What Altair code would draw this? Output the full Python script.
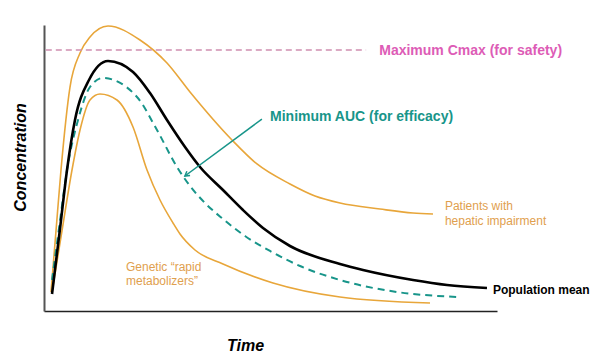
import altair as alt
import pandas as pd

# ---- data (time in arbitrary units 0-100, concentration 0-100) ----
mean_t = [1.77, 3.53, 5.08, 6.84, 9.93, 14.13, 19.65, 23.40, 27.15, 31.13, 34.44, 39.51, 43.93, 48.34, 54.30, 65.34, 70.42, 81.46, 88.96, 97.79]
mean_c = [5.94, 28.7, 49.30, 66.78, 80.77, 87.41, 83.57, 76.22, 66.78, 57.34, 50.35, 42.31, 35.31, 29.02, 22.73, 16.43, 14.34, 10.84, 9.09, 8.04]

auc_t = [1.77, 3.53, 5.08, 7.51, 10.15, 13.02, 20.53, 24.94, 29.36, 32.23, 35.54, 39.51, 44.37, 49.89, 56.51, 65.34, 77.92, 91.39]
auc_c = [10.84, 31.5, 49.30, 66.78, 78.32, 81.47, 74.83, 63.29, 50.35, 43.71, 37.76, 32.17, 26.22, 20.98, 15.73, 10.84, 6.64, 4.90]

hep_t = [1.55, 2.65, 3.75, 5.74, 7.95, 10.15, 14.13, 21.19, 27.15, 32.23, 41.50, 47.02, 54.30, 59.82, 65.34, 74.17, 81.46, 85.87]
hep_c = [6.64, 28.0, 49.30, 78.32, 90.21, 95.80, 99.65, 94.76, 86.71, 76.57, 59.79, 51.40, 44.41, 40.21, 37.76, 35.66, 34.27, 33.92]

rap_t = [1.77, 3.97, 6.18, 7.95, 10.15, 12.36, 16.11, 19.65, 22.74, 25.61, 28.48, 30.02, 33.33, 39.51, 50.55, 65.34, 85.21]
rap_c = [6.64, 28.0, 49.30, 63.29, 73.78, 75.87, 73.78, 64.34, 49.30, 38.81, 30.77, 26.92, 21.33, 16.43, 9.79, 4.90, 2.80]

cmax_level = 91.3
cmax_t = [0.4, 71.1]

arrow_t = [48.1, 31.1]
arrow_c = [67.1, 47.2]

labels_text = ["Maximum Cmax (for safety)", "Minimum AUC (for efficacy)", "Population mean"]
labels_t = [74.0, 49.9, 99.1]
labels_c = [91.0, 67.8, 7.3]

hep_label = ["Patients with", "hepatic impairment"]
hep_label_t = [88.5, 88.5]
hep_label_c = [36.7, 31.5]

rap_label = ["Genetic \u201crapid", "metabolizers\u201d"]
rap_label_t = [18.1, 18.1]
rap_label_c = [15.4, 10.5]

FONT = "Liberation Sans"
ORANGE = "#E8A63A"
ORANGE_TXT = "#DFA04E"
TEAL = "#18958A"
PINK = "#DD5CB6"
PINK_LINE = "#CF8FB0"

xs = alt.Scale(domain=[0, 100], nice=False, zero=False)
ys = alt.Scale(domain=[0, 100], nice=False, zero=False)


def curve(t, c):
    return pd.DataFrame({"t": t, "c": c, "o": list(range(len(t)))})


X = alt.X("t:Q", scale=xs, axis=alt.Axis(
    title="Time", domain=True, ticks=False, labels=False, grid=False,
    domainColor="#222", domainWidth=1.5,
    titleFont=FONT, titleFontSize=16, titleFontStyle="italic", titleFontWeight="bold",
    titleColor="#000", titleX=201, titleY=39, titleBaseline="alphabetic", titleAlign="center"))
Y = alt.Y("c:Q", scale=ys, axis=alt.Axis(
    title="Concentration", domain=True, ticks=False, labels=False, grid=False,
    domainColor="#555", domainWidth=2,
    titleFont=FONT, titleFontSize=16, titleFontStyle="italic", titleFontWeight="bold",
    titleColor="#000", titleAngle=270, titleX=-19, titleY=132,
    titleBaseline="alphabetic", titleAlign="center"))

hep = alt.Chart(curve(hep_t, hep_c)).mark_line(
    interpolate="monotone", color=ORANGE, strokeWidth=1.6).encode(x=X, y=Y, order="o:Q")
rap = alt.Chart(curve(rap_t, rap_c)).mark_line(
    interpolate="monotone", color=ORANGE, strokeWidth=1.6).encode(x="t:Q", y="c:Q", order="o:Q")
auc = alt.Chart(curve(auc_t, auc_c)).mark_line(
    interpolate="monotone", color=TEAL, strokeWidth=2, strokeDash=[7, 5]).encode(x="t:Q", y="c:Q", order="o:Q")
mean = alt.Chart(curve(mean_t, mean_c)).mark_line(
    interpolate="monotone", color="#000", strokeWidth=2.6).encode(x="t:Q", y="c:Q", order="o:Q")

cmax = alt.Chart(pd.DataFrame({"t": cmax_t, "c": [cmax_level, cmax_level]})).mark_line(
    color=PINK_LINE, strokeWidth=1.5, strokeDash=[6, 4]).encode(x="t:Q", y="c:Q")

arrow_line = alt.Chart(pd.DataFrame({"t": arrow_t, "c": arrow_c})).mark_line(
    color=TEAL, strokeWidth=1.5).encode(x="t:Q", y="c:Q")
arrow_head = alt.Chart(pd.DataFrame({"t": [arrow_t[1]], "c": [arrow_c[1]]})).mark_point(
    shape="M-0.6,1 L0,0 L0.6,1", filled=False, stroke=TEAL, strokeWidth=1.5,
    size=80, angle=233.5, opacity=1).encode(x="t:Q", y="c:Q")

lab_df = pd.DataFrame({"t": labels_t, "c": labels_c, "txt": labels_text,
                       "col": [PINK, TEAL, "#000"], "fs": [14, 14, 12]})
lab_layers = []
for i in range(3):
    lab_layers.append(alt.Chart(lab_df.iloc[[i]]).mark_text(
        align="left", baseline="middle", font=FONT, fontWeight="bold",
        fontSize=int(lab_df.fs[i]), color=lab_df.col[i]).encode(x="t:Q", y="c:Q", text="txt:N"))

hep_txt = alt.Chart(pd.DataFrame({"t": hep_label_t, "c": hep_label_c, "txt": hep_label})).mark_text(
    align="left", baseline="middle", font=FONT, fontSize=12, color=ORANGE_TXT).encode(
    x="t:Q", y="c:Q", text="txt:N")
rap_txt = alt.Chart(pd.DataFrame({"t": rap_label_t, "c": rap_label_c, "txt": rap_label})).mark_text(
    align="left", baseline="middle", font=FONT, fontSize=12, color=ORANGE_TXT).encode(
    x="t:Q", y="c:Q", text="txt:N")

chart = alt.layer(hep, rap, auc, mean, cmax, arrow_line, arrow_head, *lab_layers, hep_txt, rap_txt).properties(
    width=453, height=286,
    autosize=alt.AutoSizeParams(type="none"),
    padding={"left": 44, "top": 25, "right": 103, "bottom": 46},
    background="white",
).configure_view(stroke=None)

chart.save("out.html", embed_options={"renderer": "svg", "actions": False})
